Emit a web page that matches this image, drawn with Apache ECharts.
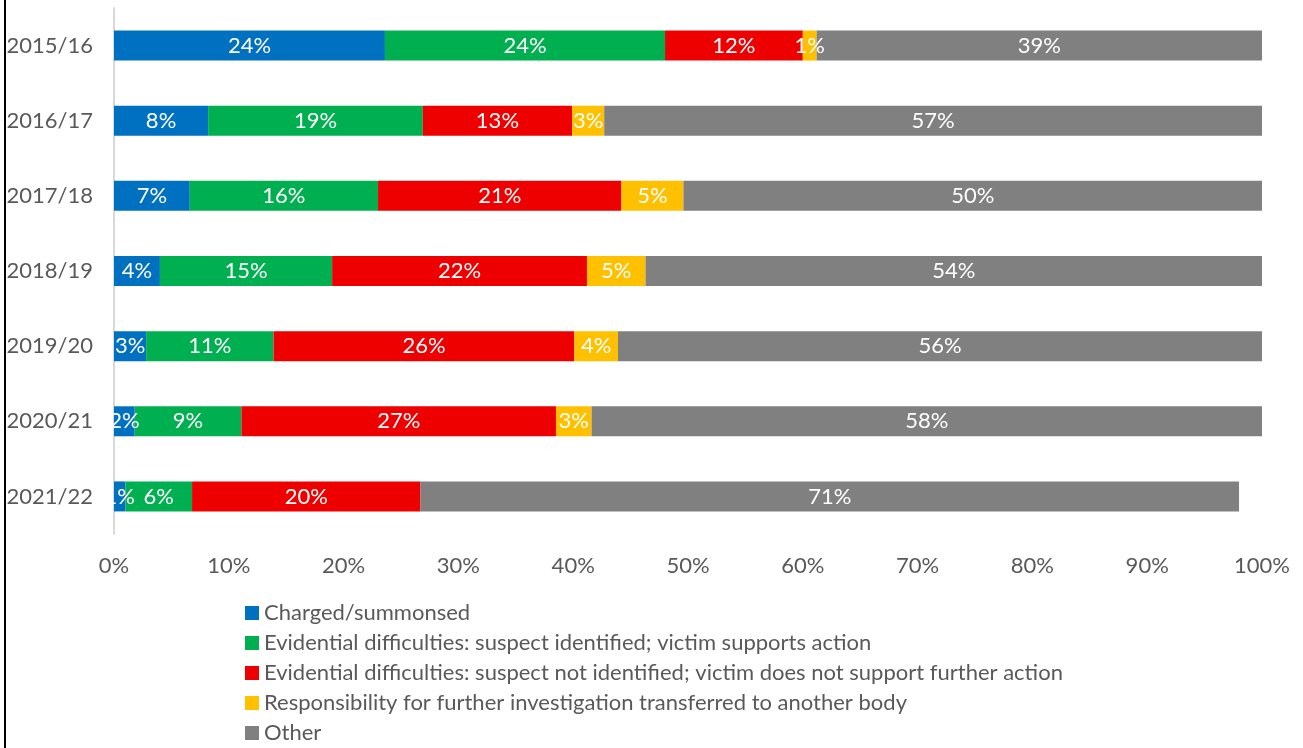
<!DOCTYPE html>
<html>
<head>
<meta charset="utf-8">
<script src="https://cdn.jsdelivr.net/npm/echarts@6/dist/echarts.min.js"></script>
<style>
html,body{margin:0;padding:0;background:#fff;}
#chart{width:1303px;height:748px;}
</style>
</head>
<body>
<div id="chart"></div>
<script>
const categories = ['2015/16','2016/17','2017/18','2018/19','2019/20','2020/21','2021/22'];
const seriesNames = [
  'Charged/summonsed',
  'Evidential difficulties: suspect identified; victim supports action',
  'Evidential difficulties: suspect not identified; victim does not support further action',
  'Responsibility for further investigation transferred to another body',
  'Other'
];
const charged     = [23.6, 8.2, 6.6, 4.0, 2.8, 1.8, 1.0];
const suspectId   = [24.4, 18.7, 16.4, 15.0, 11.1, 9.3, 5.8];
const notId       = [12.0, 13.0, 21.2, 22.2, 26.2, 27.4, 19.9];
const transferred = [1.2, 2.8, 5.4, 5.1, 3.8, 3.1, 0];
const other       = [38.8, 57.3, 50.4, 53.7, 56.1, 58.4, 71.3];
const xTicks = [0,10,20,30,40,50,60,70,80,90,100];

const colors = ['#0070C0','#00B050','#EE0000','#FFC000','#808080'];
const allData = [charged, suspectId, notId, transferred, other];
const font = 'Lato, "Open Sans", sans-serif';
const fs = 22;

const chart = echarts.init(document.getElementById('chart'));
chart.setOption({
  animation: false,
  textStyle: {fontFamily: font},
  grid: {left: 114, right: 41, top: 8, bottom: 214, containLabel: false},
  xAxis: {
    type: 'value', min: 0, max: 100, interval: 10,
    axisLine: {show: false}, axisTick: {show: false},
    splitLine: {show: false},
    axisLabel: {formatter: v => v + '%', color: '#595959', fontSize: fs, margin: 21, fontFamily: font}
  },
  yAxis: {
    type: 'category', data: categories, inverse: true,
    axisLine: {show: true, lineStyle: {color: '#D9D9D9', width: 2}},
    axisTick: {show: false},
    axisLabel: {color: '#595959', fontSize: fs, margin: 21, fontFamily: font}
  },
  legend: {
    orient: 'vertical', left: 245, top: 602, padding: 0,
    itemWidth: 14, itemHeight: 14, itemGap: 8, icon: 'rect',
    textStyle: {color: '#595959', fontSize: fs, fontFamily: font},
    data: seriesNames
  },
  graphic: [{type: 'line', shape: {x1: 5, y1: 0, x2: 5, y2: 748}, style: {stroke: '#000', lineWidth: 2}}],
  series: seriesNames.map((name, i) => ({
    name: name, type: 'bar', stack: 'total', barWidth: 30,
    itemStyle: {color: colors[i]},
    label: {
      show: true, position: 'inside', color: '#fff', fontSize: fs, fontFamily: font,
      formatter: p => p.value > 0 ? Math.round(p.value) + '%' : ''
    },
    data: allData[i]
  }))
});
</script>
</body>
</html>
